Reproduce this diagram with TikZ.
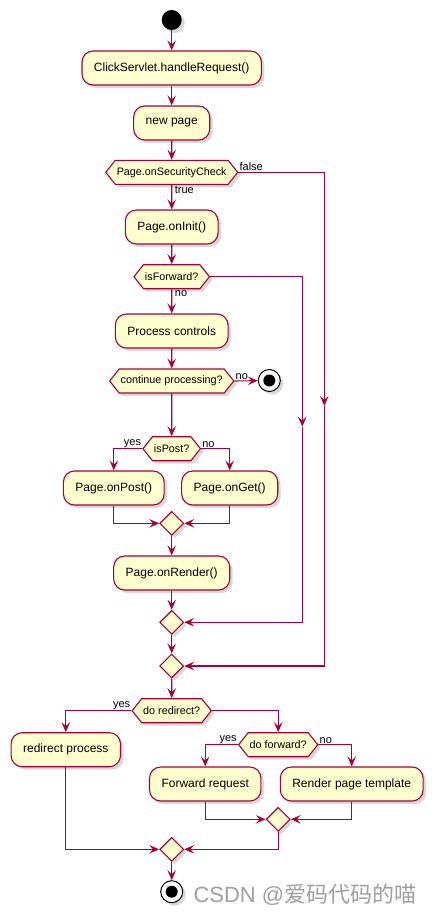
\documentclass[tikz,border=0pt]{standalone}
\usepackage{fontspec}
\setmainfont{Liberation Sans}
\newfontfamily\cjkfont{Noto Sans CJK SC}
\usetikzlibrary{arrows.meta,shapes.geometric,shapes.symbols,shadows}
\definecolor{umlred}{HTML}{A80036}
\definecolor{umlfill}{HTML}{FEFECE}
\tikzset{
  flow/.style={draw=umlred,line width=1.1pt,-{Stealth[length=10pt,width=8.5pt,inset=4pt]}},
  umlshadow/.style={drop shadow={shadow xshift=3pt,shadow yshift=-3pt,opacity=0.3}},
  act/.style={draw=umlred,fill=umlfill,line width=1.1pt,rounded corners=11pt,
    minimum height=34pt,inner xsep=12pt,font=\fontsize{12}{14}\selectfont,umlshadow},
  dec/.style={signal,signal to=west and east,signal pointer angle=103,draw=umlred,
    fill=umlfill,line width=1.1pt,minimum height=24pt,inner xsep=1.5pt,inner ysep=2pt,
    font=\fontsize{10.8}{13}\selectfont,umlshadow},
  merge/.style={diamond,draw=umlred,fill=umlfill,line width=1.1pt,minimum size=24pt,
    inner sep=0pt,umlshadow},
  startdot/.style={circle,fill=black,minimum size=20pt,inner sep=0pt,umlshadow},
  enddot/.style={circle,draw=black,fill=white,line width=1pt,minimum size=22pt,inner sep=0pt,
    umlshadow,path picture={\fill[black] (path picture bounding box.center) circle (6pt);}},
  lbl/.style={font=\fontsize{11}{13}\selectfont,inner sep=1pt}
}
\begin{document}
\begin{tikzpicture}[x=1pt,y=-1pt]
  \useasboundingbox (0,0) rectangle (439,919);

  % main column
  \node[startdot] (start)  at (171.7,20)    {};
  \node[act]      (click)  at (171.7,68)    {ClickServlet.handleRequest()};
  \node[act]      (newp)   at (171.7,123)   {new page};
  \node[dec]      (sec)    at (171.7,172.3) {Page.onSecurityCheck};
  \node[act]      (init)   at (171.7,227)   {Page.onInit()};
  \node[dec]      (isfwd)  at (171.7,276.7) {isForward?};
  \node[act]      (proc)   at (171.7,331)   {Process controls};
  \node[dec]      (cont)   at (171.7,381)   {continue processing?};
  \node[enddot]   (stopA)  at (269.3,380.5) {};
  \node[dec]      (ispost) at (171.7,448.7) {isPost?};
  \node[act]      (post)   at (113.8,488)   {Page.onPost()};
  \node[act]      (get)    at (229.7,488)   {Page.onGet()};
  \node[merge]    (mpost)  at (171.7,523.3) {};
  \node[act]      (render) at (171.7,573)   {Page.onRender()};
  \node[merge]    (mfwd)   at (171.7,622.3) {};
  \node[merge]    (msec)   at (171.7,666)   {};
  \node[dec]      (redir)  at (171.7,710.7) {do redirect?};
  \node[act]      (redirp) at (65.8,749.7)  {redirect process};
  \node[dec]      (dofwd)  at (278.2,744.7) {do forward?};
  \node[act]      (fwdreq) at (205.2,784)   {Forward request};
  \node[act]      (tmpl)   at (351.7,784)   {Render page template};
  \node[merge]    (mfwd2)  at (278.2,819.3) {};
  \node[merge]    (mend)   at (171.7,849.3) {};
  \node[enddot]   (stopB)  at (171.7,891.7) {};

  \coordinate (secA) at (324.3,406);
  \coordinate (fwdA) at (302.3,426.7);

  \foreach \a/\b in {start/click,click/newp,newp/sec,sec/init,init/isfwd,isfwd/proc,
    proc/cont,cont/ispost,mpost/render,render/mfwd,mfwd/msec,msec/redir,mend/stopB}
    \draw[flow] (\a) -- (\b);
  \draw[flow] (cont.east) -- (stopA);

  \draw[flow] (sec.east) -| (secA);
  \draw[flow] (secA) |- (msec.east);
  \draw[flow] (isfwd.east) -| (fwdA);
  \draw[flow] (fwdA) |- (mfwd.east);

  \draw[flow] (ispost.west) -| (post);
  \draw[flow] (ispost.east) -| (get);
  \draw[flow] (post) |- (mpost.west);
  \draw[flow] (get) |- (mpost.east);

  \draw[flow] (redir.west) -| (redirp);
  \draw[flow] (redir.east) -| (dofwd);
  \draw[flow] (dofwd.west) -| (fwdreq);
  \draw[flow] (dofwd.east) -| (tmpl);
  \draw[flow] (fwdreq) |- (mfwd2.west);
  \draw[flow] (tmpl) |- (mfwd2.east);
  \draw[flow] (redirp) |- (mend.west);
  \draw[flow] (mfwd2) |- (mend.east);

  % branch labels
  \node[lbl,anchor=south west] at (sec.east) {false};
  \node[lbl,anchor=north west,xshift=2pt] at (sec.south) {true};
  \node[lbl,anchor=north west,xshift=2pt] at (isfwd.south) {no};
  \node[lbl,anchor=south west] at (cont.east) {no};
  \node[lbl,anchor=south east] at (ispost.west) {yes};
  \node[lbl,anchor=south west] at (ispost.east) {no};
  \node[lbl,anchor=south east] at (redir.west) {yes};
  \node[lbl,anchor=south east] at (dofwd.west) {yes};
  \node[lbl,anchor=south west] at (dofwd.east) {no};

  \node[anchor=west,text=gray!75,font=\fontsize{22}{24}\selectfont] (mark) at (190,895)
    {CSDN @{\cjkfont 爱码代码的喵}};
\end{tikzpicture}
\end{document}
